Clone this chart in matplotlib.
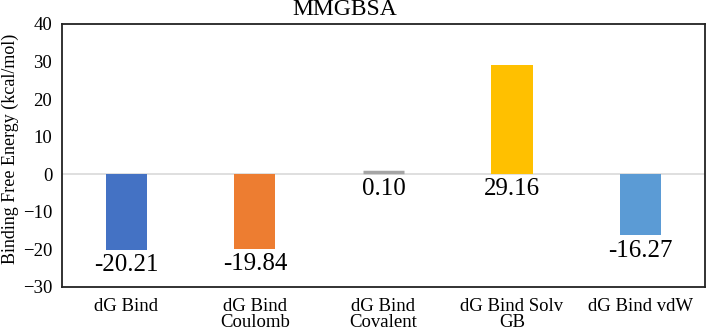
import matplotlib.pyplot as plt
import matplotlib.transforms as mtransforms

categories = ["dG Bind", "dG Bind\nCoulomb", "dG Bind\nCovalent", "dG Bind Solv\nGB", "dG Bind vdW"]
values = [-20.21, -19.84, 0.10, 29.16, -16.27]
colors = ["#4472C4", "#ED7D31", "#A5A5A5", "#FFC000", "#5B9BD5"]

plt.rcParams['font.family'] = ['Liberation Serif', 'DejaVu Serif']

fig = plt.figure(figsize=(7.08, 3.31), dpi=100)
ax = fig.add_axes([0.0876, 0.133, 0.908, 0.7945])

x = range(len(categories))
bars = ax.bar(x, values, width=0.32, color=colors, edgecolor=colors, linewidth=0, zorder=3)
# the tiny covalent bar is still visible in the original: thicken it, shifted up
bars[2].set_linewidth(2.5)
bars[2].set_transform(ax.transData + mtransforms.ScaledTranslation(0, 2 / 100, fig.dpi_scale_trans))

ax.axhline(0, color="#D9D9D9", linewidth=1.2, zorder=2)

for i, v in enumerate(values):
    bottom = min(v, 0)
    ax.annotate("%.2f" % v, (i, bottom), xytext=(0, -3), textcoords="offset points",
                ha="center", va="top", fontsize=18)

ax.set_xlim(-0.5, 4.5)
ax.set_ylim(-30, 40)
ax.set_yticks(range(-30, 41, 10))
ax.set_xticks(list(x))
ax.set_xticklabels(categories, fontsize=13.5, linespacing=0.9)
ax.tick_params(axis="both", length=0)
ax.tick_params(axis="y", labelsize=13.5, pad=7)
ax.tick_params(axis="x", pad=8)
for s in ax.spines.values():
    s.set_linewidth(1.3)
    s.set_color("#222222")

fig.text(10.5 / 708, 1 - 148.5 / 331, "Binding Free Energy (kcal/mol)", rotation=90,
         ha="center", va="center", fontsize=13)
fig.text(345 / 708, 1 - 9.5 / 331, "MMGBSA", ha="center", va="center", fontsize=17)

fig.savefig("out.png", dpi=100)
